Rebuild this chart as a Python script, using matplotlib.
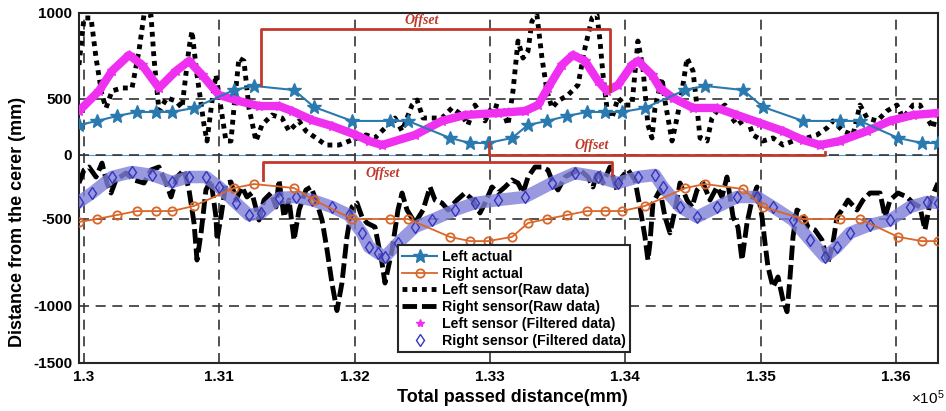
import numpy as np
import matplotlib.pyplot as plt
import matplotlib
from matplotlib.lines import Line2D
from matplotlib.ticker import FuncFormatter

matplotlib.rc('font', **{'family': 'sans-serif',
                         'sans-serif': ['Liberation Sans', 'DejaVu Sans'],
                         'size': 10, 'weight': 'bold'})
matplotlib.rcParams['mathtext.default'] = 'regular'
matplotlib.rcParams['axes.unicode_minus'] = False

# positions where the actual lateral distance was measured (mm)
x_actual = [129963, 130096, 130244, 130392, 130532, 130650, 130813, 131108,
            131256, 131552, 131699, 131980, 132261, 132394, 132704, 132852,
            132985, 133163, 133281, 133421, 133569, 133717, 133850, 133975,
            134145, 134441, 134589, 134870, 135017, 135313, 135586, 135734,
            136015, 136192, 136310]
left_actual = [268, 304, 348, 384, 384, 384, 420, 552, 576, 552, 429, 304,
               304, 304, 152, 107, 107, 152, 268, 304, 348, 384, 384, 384,
               420, 552, 576, 552, 429, 304, 304, 304, 152, 107, 107]
right_actual = [-517, -500, -469, -438, -438, -438, -398, -258, -227, -258,
                -352, -500, -500, -500, -603, -627, -627, -603, -523, -500,
                -469, -438, -438, -438, -398, -258, -227, -266, -406, -500,
                -500, -500, -603, -627, -627]

# left sensor, raw
x_left_raw = [129963, 130000, 130052, 130089, 130133, 130163, 130207, 130281,
              130355, 130406, 130443, 130495, 130517, 130554, 130613, 130680,
              130724, 130776, 130798, 130835, 130887, 130909, 130946, 130975,
              131012, 131049, 131086, 131108, 131145, 131182, 131219, 131271,
              131315, 131389, 131463, 131515, 131589, 131640, 131714, 131788,
              131884, 131980, 132084, 132150, 132224, 132298, 132350, 132424,
              132461, 132505, 132571, 132645, 132719, 132793, 132837, 132889,
              132963, 133022, 133089, 133133, 133170, 133207, 133244, 133281,
              133310, 133347, 133384, 133421, 133458, 133502, 133576, 133650,
              133702, 133754, 133791, 133813, 133835, 133864, 133901, 133946,
              133997, 134049, 134093, 134130, 134167, 134197, 134219, 134271,
              134293, 134345, 134382, 134419, 134456, 134500, 134530, 134552,
              134604, 134640, 134677, 134736, 134773, 134825, 134899, 134943,
              135017, 135091, 135165, 135239, 135342, 135416, 135490, 135534,
              135608, 135682, 135734, 135786, 135860, 135933, 136007, 136052,
              136126, 136177, 136229, 136273, 136310]
left_raw = [698, 971, 971, 738, 523, 420, 547, 564, 564, 779, 988, 988, 738,
            393, 506, 482, 420, 797, 895, 640, 268, 125, 482, 640, 420, 125,
            125, 420, 738, 721, 420, 125, 268, 357, 330, 214, 304, 214, 152,
            89, 89, 134, 179, 152, 241, 330, 214, 446, 491, 330, 330, 330,
            420, 357, 268, 446, 304, 446, 420, 268, 547, 837, 738, 779, 953,
            988, 738, 547, 420, 482, 523, 581, 797, 971, 988, 837, 640, 420,
            330, 506, 446, 446, 837, 680, 268, 152, 420, 622, 482, 125, 330,
            547, 738, 663, 420, 152, 125, 330, 393, 446, 357, 268, 330, 179,
            125, 152, 89, 125, 152, 179, 241, 304, 214, 179, 446, 330, 304,
            393, 446, 330, 446, 446, 330, 241, 420]

# right sensor, raw
x_right_raw = [129963, 130000, 130037, 130089, 130133, 130170, 130200, 130236,
               130310, 130369, 130443, 130495, 130554, 130606, 130643, 130687,
               130739, 130776, 130813, 130835, 130865, 130901, 130938, 130975,
               130983, 131012, 131049, 131086, 131123, 131167, 131204, 131241,
               131293, 131330, 131382, 131419, 131441, 131478, 131515, 131552,
               131589, 131640, 131677, 131714, 131759, 131796, 131832, 131869,
               131906, 131943, 131980, 132017, 132054, 132091, 132150, 132202,
               132224, 132276, 132320, 132350, 132387, 132446, 132505, 132557,
               132594, 132645, 132690, 132756, 132815, 132874, 132926, 132963,
               133015, 133059, 133111, 133163, 133207, 133244, 133281, 133332,
               133384, 133428, 133465, 133502, 133554, 133606, 133665, 133724,
               133761, 133798, 133835, 133887, 133938, 133975, 134020, 134071,
               134108, 134145, 134167, 134182, 134204, 134256, 134293, 134330,
               134367, 134404, 134456, 134493, 134530, 134574, 134626, 134677,
               134714, 134751, 134796, 134832, 134862, 134899, 134936, 134973,
               135010, 135032, 135054, 135091, 135128, 135165, 135195, 135217,
               135239, 135268, 135305, 135350, 135401, 135453, 135497, 135534,
               135564, 135601, 135645, 135712, 135756, 135808, 135882, 135919,
               135956, 136015, 136081, 136126, 136177, 136214, 136251, 136288,
               136310]
right_raw = [-219, -117, -94, -172, -63, -219, -297, -195, -141, -195, -219,
             -117, -94, -219, -328, -172, -117, -273, -523, -736, -580, -273,
             -195, -484, -621, -484, -219, -211, -352, -250, -328, -297, -506,
             -352, -297, -406, -195, -484, -352, -621, -430, -273, -250, -352,
             -506, -678, -868, -1040, -868, -603, -406, -375, -484, -523, -546,
             -753, -868, -678, -430, -297, -430, -523, -430, -250, -352, -375,
             -430, -352, -297, -352, -453, -375, -250, -297, -250, -195, -219,
             -297, -172, -94, -94, -117, -219, -273, -172, -141, -117, -172,
             -250, -117, -219, -94, -273, -172, -117, -195, -406, -603, -736,
             -638, -375, -273, -484, -580, -430, -219, -352, -406, -273, -219,
             -352, -250, -328, -172, -484, -546, -736, -523, -352, -250, -484,
             -638, -776, -891, -833, -966, -1050, -833, -603, -430, -453, -546,
             -563, -621, -753, -638, -484, -430, -352, -430, -352, -297, -297,
             -484, -352, -297, -328, -375, -406, -563, -375, -273, -219]

# filtered sensor outputs
x_left_filt = [129963, 130111, 130207, 130333, 130429, 130554, 130680, 130776,
               130872, 130998, 131145, 131293, 131441, 131537, 131685, 131832,
               132010, 132106, 132202, 132446, 132645, 132815, 133059, 133259,
               133355, 133428, 133532, 133613, 133702, 133798, 133864, 133946,
               134049, 134093, 134197, 134256, 134352, 134500, 134677, 134825,
               134995, 135165, 135313, 135438, 135586, 135786, 135955, 136126,
               136310]
left_filt = [393, 547, 663, 756, 698, 564, 663, 721, 640, 523, 482, 437, 437,
             393, 312, 259, 179, 125, 89, 179, 304, 357, 375, 393, 446, 564,
             698, 756, 721, 605, 547, 581, 698, 721, 640, 564, 506, 420, 420,
             357, 286, 214, 134, 89, 125, 214, 304, 357, 375]

x_right_filt = [129963, 130059, 130207, 130355, 130502, 130650, 130776, 130901,
                130998, 131123, 131219, 131308, 131441, 131566, 131685, 131832,
                131958, 132054, 132106, 132172, 132224, 132320, 132446, 132571,
                132741, 132889, 133059, 133259, 133458, 133628, 133798, 133946,
                134093, 134219, 134278, 134404, 134530, 134677, 134825, 134973,
                135091, 135239, 135364, 135475, 135564, 135660, 135808, 135956,
                136103, 136229, 136310]
right_filt = [-367, -297, -172, -133, -156, -211, -172, -172, -250, -375,
              -469, -453, -336, -328, -352, -406, -469, -580, -661, -695, -718,
              -638, -546, -506, -430, -375, -352, -328, -219, -141, -172, -219,
              -172, -156, -250, -406, -484, -406, -328, -328, -406, -506, -621,
              -718, -661, -580, -534, -506, -406, -367, -375]

# the y axis of this figure has uneven spacing between its gridlines
y_knots = [-1500, -1000, -500, 0, 500, 1000]
y_pos = [0, 57, 144, 208, 264, 350]


def fwd(v):
    return np.interp(v, y_knots, y_pos)


def inv(p):
    return np.interp(p, y_pos, y_knots)


red = '#c0392b'

fig = plt.figure(figsize=(9.46, 4.11), dpi=100)
ax = fig.add_axes([0.0835, 0.1168, 0.908, 0.8516])
ax.set_yscale('function', functions=(fwd, inv))

ax.axhline(0, color='#5b9bd5', lw=0.8, zorder=1)

ax.plot(x_left_raw, left_raw, color='k', lw=3.5, dashes=(1, 1), zorder=2)
ax.plot(x_right_raw, right_raw, color='k', lw=3.5, dashes=(3, 1), zorder=2)

ax.plot(x_left_filt, left_filt, color='#f030f0', lw=6,
        solid_joinstyle='round', solid_capstyle='round', zorder=4)
ax.plot(x_left_filt, left_filt, ls='none', marker='*', ms=7,
        color='#f030f0', zorder=4)
ax.plot(x_right_filt, right_filt, color='#8080d8', lw=9, alpha=0.8,
        solid_joinstyle='round', solid_capstyle='round', zorder=4)
ax.plot(x_right_filt, right_filt, ls='none', marker='d', ms=6, mfc='none',
        mec='#3535c0', mew=1, zorder=4)

ax.plot(x_actual, left_actual, color='#2a7ab0', lw=1.5, marker='*', ms=10,
        zorder=5)
ax.plot(x_actual, right_actual, color='#d9672a', lw=1.3, marker='o', ms=6,
        mfc='none', mew=1.3, zorder=5)

# offset brackets
ax.plot([131308, 131308, 133886, 133886], [581, 907, 907, 547],
        color=red, lw=2, zorder=6)
ax.plot([132993, 132993, 135475, 135475], [107, 0, 0, 25],
        color=red, lw=2, zorder=6)
ax.plot([131323, 131323, 133901, 133901], [-195, -52, -52, -156],
        color=red, lw=2, zorder=6)
off_kw = dict(color=red, fontsize=10, family='Liberation Serif',
              style='italic', weight='bold', ha='center', va='center',
              zorder=7)
ax.text(132497, 959, 'Offset', **off_kw)
ax.text(133754, 89, 'Offset', **off_kw)
ax.text(132209, -141, 'Offset', **off_kw)

ax.set_xlim(129963, 136310)
ax.set_ylim(-1500, 1000)
ax.set_xticks(np.arange(130000, 136001, 1000))
ax.set_yticks(y_knots)
ax.xaxis.set_major_formatter(FuncFormatter(lambda v, _: f'{v / 1e5:g}'))
ax.grid(True, color='#333333', lw=1.2, ls=(0, (6, 4)))
ax.tick_params(length=0, pad=5, labelsize=11)
for s in ax.spines.values():
    s.set_linewidth(1.5)
    s.set_color('#262626')

ax.set_xlabel('Total passed distance(mm)', fontsize=13, fontweight='bold')
ax.set_ylabel('Distance from the cerer (mm)', fontsize=13, fontweight='bold')
ax.xaxis.set_label_coords(0.505, -0.074)
ax.yaxis.set_label_coords(-0.062, 0.403)
ax.text(1.008, -0.072, '×10$^{5}$', transform=ax.transAxes, ha='right',
        va='top', fontsize=11, fontweight='normal')

handles = [
    Line2D([], [], color='#2a7ab0', lw=1.5, marker='*', ms=10),
    Line2D([], [], color='#d9672a', lw=1.3, marker='o', ms=6, mfc='none',
           mew=1.3),
    Line2D([], [], color='k', lw=3.5, dashes=(1, 1)),
    Line2D([], [], color='k', lw=3.5, dashes=(3, 1)),
    Line2D([], [], ls='none', color='#f030f0', marker='*', ms=6),
    Line2D([], [], ls='none', color='#3535c0', marker='d', ms=6, mfc='none'),
]
labels = ['Left actual', 'Right actual', 'Left sensor(Raw data)',
          'Right sensor(Raw data)', 'Left sensor (Filtered data)',
          'Right sensor (Filtered data)']
leg = ax.legend(handles, labels, loc='lower left',
                bbox_to_anchor=(0.371, 0.031), borderaxespad=0,
                fancybox=False, framealpha=1, edgecolor='#262626',
                handlelength=2.5, handletextpad=0.3, labelspacing=0.2,
                borderpad=0.3, fontsize=10.2)
leg.get_frame().set_linewidth(1.5)
leg.set_zorder(10)

fig.savefig('out.png', dpi=100)
